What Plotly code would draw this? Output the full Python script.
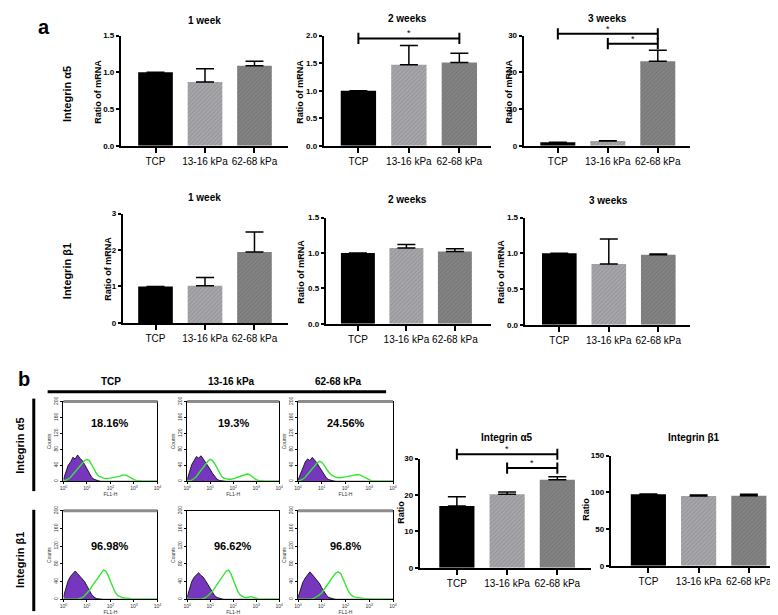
import plotly.graph_objects as go

W, H = 778, 615

# ── Data ──────────────────────────────────────────────────────────────────────
CONDITIONS = ["TCP", "13-16 kPa", "62-68 kPa"]

# panel a: qPCR, ratio of mRNA (mean and upper error)
A5_1W = [1.0, 0.87, 1.09]
A5_1W_ERR = [0.0, 0.18, 0.06]
A5_2W = [1.0, 1.47, 1.51]
A5_2W_ERR = [0.0, 0.35, 0.17]
A5_3W = [1.0, 1.3, 23.0]
A5_3W_ERR = [0.0, 0.1, 3.0]
B1_1W = [1.0, 1.02, 1.95]
B1_1W_ERR = [0.0, 0.23, 0.55]
B1_2W = [1.0, 1.07, 1.02]
B1_2W_ERR = [0.0, 0.05, 0.04]
B1_3W = [1.0, 0.85, 0.98]
B1_3W_ERR = [0.0, 0.35, 0.01]

# panel b: flow cytometry, positive ratio (%)
FACS_A5 = [17.0, 20.2, 24.2]
FACS_A5_ERR = [2.5, 0.6, 0.8]
FACS_B1 = [97.5, 95.0, 95.5]
FACS_B1_ERR = [0.5, 1.5, 2.0]
FACS_PCT_A5 = ["18.16%", "19.3%", "24.56%"]
FACS_PCT_B1 = ["96.98%", "96.62%", "96.8%"]

# significance brackets: (from category, to category, height)
SIG_A5_2W = [(0, 2, 1.95)]
SIG_A5_3W = [(0, 2, 30.5), (1, 2, 27.8)]
SIG_FACS_A5 = [(0, 2, 31.2), (1, 2, 27.4)]

# flow histograms: FL1-H bin centres and counts
FL1_BINS = [1.0, 1.26, 1.58, 2.0, 2.51, 3.16, 3.98, 5.01, 6.31, 7.94,
            10.0, 12.6, 15.8, 20.0, 25.1, 31.6, 39.8, 50.1, 63.1, 79.4,
            100, 126, 158, 200, 251, 316, 398, 501, 631, 794,
            1000, 1259, 1585, 1995, 2512, 3162, 3981, 5012, 6310, 7943, 10000]

ISO_A5_TCP = [5, 24, 40, 48, 60, 56, 66, 58, 52, 42, 30, 19, 10, 5, 2, 1, 0, 0, 0, 0,
              0, 0, 0, 0, 0, 0, 0, 0, 0, 0, 0, 0, 0, 0, 0, 0, 0, 0, 0, 0, 0]
GRN_A5_TCP = [0, 2, 5, 10, 17, 24, 32, 40, 47, 52, 55, 52, 42, 30, 20, 13, 10, 8, 7, 7,
              8, 9, 10, 11, 13, 15, 16, 14, 10, 6, 4, 2, 1, 0, 0, 0, 0, 0, 0, 0, 0]
ISO_A5_1316 = [4, 22, 42, 52, 62, 58, 64, 56, 48, 40, 30, 20, 11, 5, 2, 1, 0, 0, 0, 0,
               0, 0, 0, 0, 0, 0, 0, 0, 0, 0, 0, 0, 0, 0, 0, 0, 0, 0, 0, 0, 0]
GRN_A5_1316 = [0, 1, 3, 7, 12, 20, 28, 36, 44, 50, 55, 52, 44, 32, 20, 12, 8, 6, 5, 5,
               6, 8, 10, 12, 15, 17, 18, 17, 12, 7, 4, 2, 1, 0, 0, 0, 0, 0, 0, 0, 0]
ISO_A5_6268 = [3, 18, 36, 48, 56, 52, 60, 54, 46, 36, 26, 16, 8, 4, 2, 1, 0, 0, 0, 0,
               0, 0, 0, 0, 0, 0, 0, 0, 0, 0, 0, 0, 0, 0, 0, 0, 0, 0, 0, 0, 0]
GRN_A5_6268 = [0, 2, 5, 10, 17, 25, 33, 40, 46, 50, 48, 40, 30, 22, 16, 12, 10, 9, 9, 10,
               11, 12, 13, 15, 16, 17, 16, 13, 9, 5, 3, 1, 0, 0, 0, 0, 0, 0, 0, 0, 0]
ISO_B1_TCP = [6, 26, 42, 52, 58, 64, 58, 52, 46, 40, 30, 20, 11, 5, 2, 1, 0, 0, 0, 0,
              0, 0, 0, 0, 0, 0, 0, 0, 0, 0, 0, 0, 0, 0, 0, 0, 0, 0, 0, 0, 0]
GRN_B1_TCP = [0, 0, 0, 0, 0, 0, 0, 2, 4, 8, 13, 20, 28, 36, 44, 52, 60, 66, 64, 54,
              40, 27, 16, 9, 6, 4, 3, 3, 2, 1, 1, 0, 0, 0, 0, 0, 0, 0, 0, 0, 0]
ISO_B1_1316 = [5, 24, 40, 50, 56, 60, 54, 50, 42, 34, 24, 15, 8, 4, 2, 1, 0, 0, 0, 0,
               0, 0, 0, 0, 0, 0, 0, 0, 0, 0, 0, 0, 0, 0, 0, 0, 0, 0, 0, 0, 0]
GRN_B1_1316 = [0, 0, 0, 0, 0, 0, 0, 2, 4, 8, 12, 18, 26, 34, 42, 50, 58, 64, 66, 58,
               44, 30, 18, 10, 6, 4, 4, 5, 6, 4, 2, 1, 0, 0, 0, 0, 0, 0, 0, 0, 0]
ISO_B1_6268 = [4, 20, 38, 48, 56, 62, 56, 50, 44, 36, 26, 16, 9, 4, 2, 1, 0, 0, 0, 0,
               0, 0, 0, 0, 0, 0, 0, 0, 0, 0, 0, 0, 0, 0, 0, 0, 0, 0, 0, 0, 0]
GRN_B1_6268 = [0, 0, 0, 0, 0, 0, 1, 3, 6, 10, 15, 22, 30, 38, 46, 54, 60, 62, 58, 46,
               32, 20, 12, 7, 5, 4, 3, 2, 2, 1, 1, 0, 0, 0, 0, 0, 0, 0, 0, 0, 0]

# ── Styling ───────────────────────────────────────────────────────────────────
BAR_COLORS = ["#000000", "#a6a6aa", "#828282"]
HATCH_COLORS = ["#000000", "#9a9a9e", "#767676"]
PURPLE = "#7636bd"
GREEN = "#33e633"
SANS = "Liberation Sans"


def fx(px):
    return px / W


def fy(py):
    return 1 - py / H


def names(n):
    s = "" if n == 1 else str(n)
    return "xaxis" + s, "yaxis" + s, "x" + s, "y" + s


fig = go.Figure()
layout = {}
annotations = []
shapes = []


def text(px, py, s, size, bold=True, angle=0, family=SANS):
    annotations.append(dict(
        text=s, x=fx(px), y=fy(py), xref="paper", yref="paper",
        showarrow=False, textangle=angle, xanchor="center", yanchor="middle",
        font=dict(family=family, size=size, color="black",
                  weight="bold" if bold else "normal"),
    ))


# bar panels: data, y max, dtick, tick format, x pixel geometry
# (axis, end, first centre, spacing), y pixel geometry (zero, top),
# title + position, y-label + position, brackets
BAR_PANELS = [
    (A5_1W, A5_1W_ERR, 1.5, 0.5, ".1f", (110, 279, 145, 50), (135, 23),
     "1 week", (195, 8), "Ratio of mRNA", (87, 80), []),
    (A5_2W, A5_2W_ERR, 2.0, 0.5, ".1f", (315, 484, 350, 51), (135, 23),
     "2 weeks", (400, 6), "Ratio of mRNA", (291, 80), SIG_A5_2W),
    (A5_3W, A5_3W_ERR, 30, 10, "d", (517, 685, 551.5, 50.5), (135, 23),
     "3 weeks", (602, 6), "Ratio of mRNA", (502, 80), SIG_A5_3W),
    (B1_1W, B1_1W_ERR, 3, 1, "d", (112, 279, 145, 50), (315, 204),
     "1 week", (195, 188), "Ratio of mRNA", (97, 260), []),
    (B1_2W, B1_2W_ERR, 1.5, 0.5, ".1f", (317, 484, 349.5, 49), (316, 208),
     "2 weeks", (400, 190), "Ratio of mRNA", (292, 263), []),
    (B1_3W, B1_3W_ERR, 1.5, 0.5, ".1f", (518, 685, 553, 50), (317, 208),
     "3 weeks", (603, 191), "Ratio of mRNA", (494, 263), []),
    (FACS_A5, FACS_A5_ERR, 30, 10, "d", (412, 585, 449.5, 50.75), (564, 453),
     "Integrin α5", (500, 432), "Ratio", (393, 507), SIG_FACS_A5),
    (FACS_B1, FACS_B1_ERR, 150, 50, "d", (605, 778, 643, 50.75), (562, 450),
     "Integrin β1", (689, 432), "Ratio", (580, 505), []),
]

n = 0
overlays = []
for (mean, err, ymax, dtick, fmt, (xl, xe, c0, sp), (y0, yt),
     title, tpos, ylab, lpos, sigs) in BAR_PANELS:
    n += 1
    xa, ya, xr, yr = names(n)
    idx = list(range(len(CONDITIONS)))
    xrange_ = [(xl - c0) / sp, (xe - c0) / sp]
    fig.add_trace(go.Bar(
        x=idx, y=mean, width=0.7, xaxis=xr, yaxis=yr, cliponaxis=False,
        marker=dict(color=BAR_COLORS, line_width=0,
                    pattern=dict(shape=["", "/", "/"], size=3, solidity=0.15,
                                 fgcolor=HATCH_COLORS)),
        error_y=dict(type="data", array=err, arrayminus=[0] * len(err),
                     symmetric=False, color="black", thickness=1.5, width=9),
        hoverinfo="skip",
    ))
    layout[xa] = dict(
        domain=[fx(xl), fx(xe)], range=xrange_,
        anchor=yr, tickvals=idx, ticktext=CONDITIONS, tickangle=0,
        showline=True, linewidth=2, linecolor="black",
        ticks="outside", ticklen=5, tickwidth=2, tickcolor="black",
        ticklabelstandoff=0, tickfont=dict(family=SANS, size=10, color="black"),
        showgrid=False, zeroline=False,
    )
    layout[ya] = dict(
        domain=[fy(y0), fy(yt)], range=[0, ymax], dtick=dtick, tickformat=fmt,
        anchor=xr, showline=True, linewidth=2, linecolor="black",
        ticks="outside", ticklen=3, tickwidth=1.5, tickcolor="black",
        tickfont=dict(family=SANS, size=8, color="black", weight="bold"),
        showgrid=False, zeroline=False,
    )
    text(tpos[0], tpos[1], title, 10)
    text(lpos[0], lpos[1], ylab, 9, angle=-90)
    if sigs:
        overlays.append((sigs, (xl, xe), xrange_, (y0, yt), ymax))

# brackets live on invisible axes with the same scale but a taller domain,
# so they can sit above the top of the visible y axis
for sigs, (xl, xe), xrange_, (y0, yt), ymax in overlays:
    n += 1
    xa, ya, xr, yr = names(n)
    top = yt - 16
    layout[xa] = dict(domain=[fx(xl), fx(xe)], range=xrange_, anchor=yr,
                      visible=False)
    layout[ya] = dict(domain=[fy(y0), fy(top)],
                      range=[0, ymax * (y0 - top) / (y0 - yt)], anchor=xr,
                      visible=False)
    for a, b, h in sigs:
        fig.add_trace(go.Scatter(
            x=[a, b], y=[h, h], xaxis=xr, yaxis=yr, mode="lines+markers",
            line=dict(color="black", width=2),
            marker=dict(symbol="line-ns", size=8,
                        line=dict(color="black", width=2)),
            hoverinfo="skip",
        ))
        annotations.append(dict(
            text="*", x=(a + b) / 2, y=h, xref=xr, yref=yr, showarrow=False,
            yanchor="bottom", yshift=-2, font=dict(family=SANS, size=9, color="black"),
        ))

# flow histograms: isotype (purple), sample (green), label, box pixels, grey top
FLOW_PANELS = [
    (ISO_A5_TCP, GRN_A5_TCP, FACS_PCT_A5[0], (52, 147, 395, 476), True),
    (ISO_A5_1316, GRN_A5_1316, FACS_PCT_A5[1], (177, 270, 395, 476), True),
    (ISO_A5_6268, GRN_A5_6268, FACS_PCT_A5[2], (289, 385, 395, 476), True),
    (ISO_B1_TCP, GRN_B1_TCP, FACS_PCT_B1[0], (52, 147, 506, 596), True),
    (ISO_B1_1316, GRN_B1_1316, FACS_PCT_B1[1], (177, 270, 506, 596), False),
    (ISO_B1_6268, GRN_B1_6268, FACS_PCT_B1[2], (289, 385, 506, 596), True),
]

for iso, grn, pct, (x0, x1, yt, yb), grey_top in FLOW_PANELS:
    n += 1
    xa, ya, xr, yr = names(n)
    fig.add_trace(go.Scatter(
        x=FL1_BINS, y=iso, xaxis=xr, yaxis=yr, mode="lines",
        fill="tozeroy", fillcolor=PURPLE, line=dict(color="black", width=0.8),
        hoverinfo="skip",
    ))
    fig.add_trace(go.Scatter(
        x=FL1_BINS, y=grn, xaxis=xr, yaxis=yr, mode="lines",
        line=dict(color=GREEN, width=1.4), hoverinfo="skip",
    ))
    layout[xa] = dict(
        domain=[fx(x0), fx(x1)], type="log", range=[0, 4], anchor=yr,
        tickvals=[1, 10, 100, 1000, 10000],
        ticktext=["10<sup>0</sup>", "10<sup>1</sup>", "10<sup>2</sup>",
                  "10<sup>3</sup>", "10<sup>4</sup>"],
        tickangle=0,
        showline=True, mirror=True, linewidth=1, linecolor="black",
        ticks="outside", ticklen=1.5, tickwidth=0.8, tickcolor="black",
        tickfont=dict(family=SANS, size=5, color="#333"),
        title=dict(text="FL1-H", font=dict(family=SANS, size=5, color="#333"),
                   standoff=0),
        showgrid=False, zeroline=False,
    )
    layout[ya] = dict(
        domain=[fy(yb), fy(yt)], range=[0, 200], anchor=xr,
        tickvals=[0, 40, 80, 120, 160, 200], tickangle=-90,
        showline=True, mirror=True, linewidth=1, linecolor="black",
        ticks="outside", ticklen=2, tickwidth=0.8, tickcolor="black",
        tickfont=dict(family=SANS, size=5, color="#333"),
        title=dict(text="Counts", font=dict(family=SANS, size=5, color="#333"),
                   standoff=1),
        showgrid=False, zeroline=False,
    )
    if grey_top:
        shapes.append(dict(type="line", xref="paper", yref="paper",
                           x0=fx(x0), x1=fx(x1), y0=fy(yt), y1=fy(yt),
                           line=dict(color="#8c8c8c", width=3)))
    text((x0 + x1) / 2, yt + (22 if yt < 450 else 36), pct, 11)

# panel letters, row labels and column headers
text(32, 14, "a", 20)
text(12, 372, "b", 20)
text(55, 82, "Integrin α5", 11, angle=-90)
text(55, 262, "Integrin β1", 11, angle=-90)
text(8, 440, "Integrin α5", 11, angle=-90)
text(8, 556, "Integrin β1", 11, angle=-90)
for label, px in zip(CONDITIONS, [100, 222, 330]):
    text(px, 375, label, 10)

shapes.append(dict(type="line", xref="paper", yref="paper",
                   x0=fx(36), x1=fx(378), y0=fy(385), y1=fy(385),
                   line=dict(color="black", width=3)))
for ya0, ya1 in [(392, 486), (505, 608)]:
    shapes.append(dict(type="line", xref="paper", yref="paper",
                       x0=fx(22), x1=fx(22), y0=fy(ya0), y1=fy(ya1),
                       line=dict(color="black", width=3)))

fig.update_layout(
    width=W, height=H, margin=dict(l=0, r=0, t=0, b=0),
    paper_bgcolor="white", plot_bgcolor="rgba(0,0,0,0)",
    showlegend=False, annotations=annotations, shapes=shapes,
    font=dict(family=SANS, color="black"),
    **layout,
)

fig.write_html("out.html")
